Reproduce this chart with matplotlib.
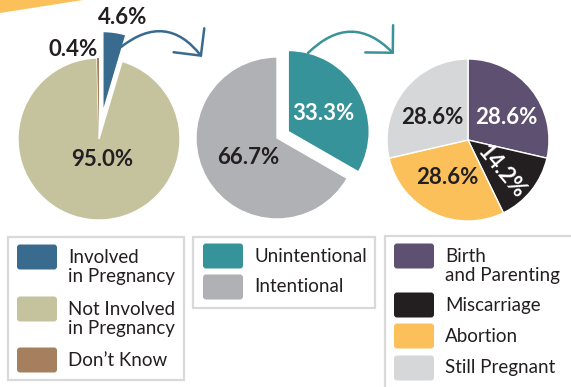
import matplotlib

matplotlib.use("Agg")
import matplotlib.pyplot as plt
from matplotlib.patches import ArrowStyle, FancyArrowPatch, FancyBboxPatch, Polygon, Rectangle

plt.rcParams["font.family"] = ["Lato", "DejaVu Sans"]

W, H = 571, 387
INK = "#231f20"

# all respondents
p1_labels = ["Involved\nin Pregnancy", "Not Involved\nin Pregnancy", "Don\u2019t Know"]
p1_values = [4.6, 95.0, 0.4]
p1_colors = ["#386b8e", "#c5c29e", "#a6805e"]

# of those involved: was the pregnancy intended
p2_labels = ["Unintentional", "Intentional"]
p2_values = [33.3, 66.7]
p2_colors = ["#36939a", "#b0b1b4"]

# outcome of the unintended pregnancies
p3_labels = ["Birth\nand Parenting", "Miscarriage", "Abortion", "Still Pregnant"]
p3_values = [28.6, 14.2, 28.6, 28.6]
p3_colors = ["#5e5070", "#231f20", "#fcc05a", "#d6d7d9"]


def py(y):
    """pixel row (from top) -> data y"""
    return H - y


fig = plt.figure(figsize=(W / 100, H / 100), dpi=100)
ax = fig.add_axes([0, 0, 1, 1])

R = 81
pies = [
    # values, colors, centre (px), explode (fraction of R), label offsets, label colours, rotation
    (p1_values, p1_colors, (99, 139), [0.33, 0, 0],
     [(24, 122), (3, -21), (-26, 90)], [INK, INK, INK], [0, 0, 0]),
    (p2_values, p2_colors, (277, 138), [0.16, 0],
     [(46, 25), (-29, -20)], ["white", INK], [0, 0]),
    (p3_values, p3_colors, (468, 140), [0, 0, 0, 0],
     [(38, 23), (34, -32), (-21, -38), (-36, 23)], ["white", "white", INK, INK], [0, -50, 0, 0]),
]

for vals, cols, (cx, cy), expl, offs, tcols, rots in pies:
    wedges, _ = ax.pie(vals, colors=cols, explode=[e * R for e in expl], startangle=90,
                       counterclock=False, center=(cx, py(cy)), radius=R, frame=True,
                       wedgeprops=dict(edgecolor="white", linewidth=1.0))
    for v, (dx, dy), tc, rot in zip(vals, offs, tcols, rots):
        ax.text(cx + dx, py(cy) + dy, f"{v:.1f}%", ha="center", va="center",
                fontsize=16, fontweight="bold", color=tc, rotation=rot,
                rotation_mode="anchor")
    if len(vals) == 3:
        wedges[2].set_linewidth(0)

# curved arrows linking the pies
for (xa, ya), (xb, yb), col in [((121, 47), (202, 57), "#386b8e"),
                                ((308, 53), (394, 54), "#3a9399")]:
    arr = FancyArrowPatch((xa, py(ya)), (xb, py(yb)),
                          connectionstyle="arc3,rad=-0.5",
                          arrowstyle=ArrowStyle("->", head_length=1.0, head_width=1.0),
                          mutation_scale=14, color=col, lw=1.8, shrinkA=0, shrinkB=0)
    ax.add_patch(arr)

# yellow band in the corner
ax.add_patch(Polygon([(0, py(0)), (83, py(0)), (0, py(13))], closed=True,
                     facecolor="#fcc05a", edgecolor="none"))

# legend boxes
boxes = [
    ((8, 237, 184, 380), 17, 68, [257, 309, 360], p1_labels, p1_colors),
    ((193, 237, 375, 308), 203, 254, [256, 287], p2_labels, p2_colors),
    ((385, 236, 580, 395), 394, 445, [256, 305, 336, 368], p3_labels, p3_colors),
]
LINE = 19.5
for (x0, y0, x1, y1), sx, tx, rows, labels, cols in boxes:
    ax.add_patch(Rectangle((x0, py(y1)), x1 - x0, y1 - y0, facecolor="none",
                           edgecolor="#d9d9d9", lw=1.6))
    for yc, lab, col in zip(rows, labels, cols):
        ax.add_patch(FancyBboxPatch((sx + 2, py(yc) - 10.5), 36, 21,
                                    boxstyle="round,pad=2,rounding_size=3",
                                    facecolor=col, edgecolor="none"))
        n = lab.count("\n")
        ax.text(tx, py(yc) - n * LINE / 2, lab, ha="left", va="center",
                fontsize=13.5, color=INK, linespacing=1.15)

ax.set_xlim(0, W)
ax.set_ylim(0, H)
ax.set_aspect("auto")
ax.axis("off")

fig.savefig("out.png", dpi=100)
